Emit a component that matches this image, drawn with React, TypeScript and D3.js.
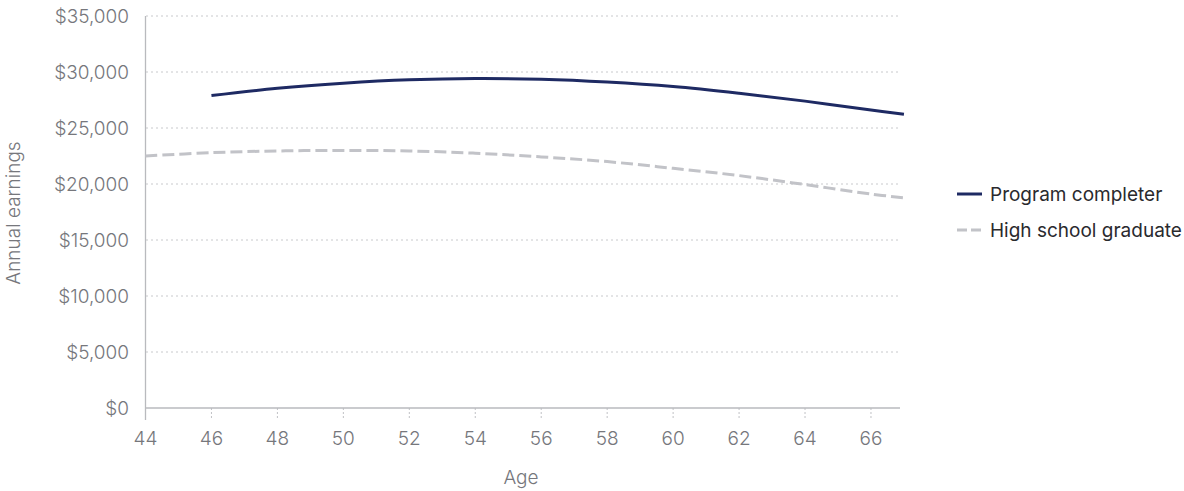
import React from "react";
import * as d3 from "d3";

const ages = [44, 46, 48, 50, 52, 54, 56, 58, 60, 62, 64, 66, 67];
const programCompleter: (number | null)[] = [null, 27900, 28550, 29000, 29300, 29420, 29350, 29100, 28700, 28100, 27400, 26600, 26220];
const highSchoolGraduate: (number | null)[] = [22500, 22800, 22950, 23000, 22950, 22750, 22420, 22000, 21400, 20750, 19950, 19100, 18770];
const yTicks = [0, 5000, 10000, 15000, 20000, 25000, 30000, 35000];
const xTicks = [44, 46, 48, 50, 52, 54, 56, 58, 60, 62, 64, 66];
const seriesNames = ["Program completer", "High school graduate"];

const W = 1184, H = 491;
const FONT = "Inter, 'Open Sans', sans-serif";
const TICK_COLOR = "#76777c";
const FS = 19;

export default function App() {
  const x = d3.scaleLinear().domain([44, 66.88]).range([145.5, 900]);
  const y = d3.scaleLinear().domain([0, 35000]).range([408, 16]);
  const fmt = (v: number) => "$" + d3.format(",")(v);

  const mk = (vals: (number | null)[]) =>
    d3
      .line<number>()
      .defined((_, i) => vals[i] != null)
      .x((_, i) => x(ages[i]))
      .y((_, i) => y(vals[i] as number))
      .curve(d3.curveCatmullRom.alpha(0.5))(ages.map((a) => a)) || "";

  return (
    <svg width={W} height={H} style={{ position: "absolute", left: 0, top: 0, display: "block" }}>
      <rect width={W} height={H} fill="#fff" />
      {yTicks.map((t) => (
        <g key={t}>
          {t > 0 && (
            <line x1={146} x2={900} y1={y(t)} y2={y(t)} stroke="#c8c9cc" strokeWidth={1} strokeDasharray="2,3" />
          )}
          <text x={129} y={y(t)} dy="0.35em" textAnchor="end" fontFamily={FONT} fontSize={FS} fontWeight={300} fill={TICK_COLOR}>
            {fmt(t)}
          </text>
        </g>
      ))}
      {xTicks.map((t) => (
        <g key={t}>
          <line x1={x(t)} x2={x(t)} y1={408} y2={420} stroke="#c0c1c5" strokeWidth={1} strokeDasharray="2,2" />
          <text x={x(t)} y={438} dy="0.35em" textAnchor="middle" fontFamily={FONT} fontSize={FS} fontWeight={300} fill={TICK_COLOR}>
            {t}
          </text>
        </g>
      ))}
      <line x1={145.5} x2={145.5} y1={16} y2={420} stroke="#b9babe" strokeWidth={1.3} />
      <line x1={145.5} x2={900} y1={408} y2={408} stroke="#b9babe" strokeWidth={1.3} />
      <path d={mk(highSchoolGraduate)} fill="none" stroke="#c2c3c8" strokeWidth={3} strokeDasharray="12,5" />
      <path d={mk(programCompleter)} fill="none" stroke="#1e2a63" strokeWidth={3} />
      <text x={521} y={477} dy="0.35em" textAnchor="middle" fontFamily={FONT} fontSize={FS} fontWeight={300} fill={TICK_COLOR}>
        Age
      </text>
      <text
        transform={`translate(13,213) rotate(-90)`}
        dy="0.35em"
        textAnchor="middle"
        fontFamily={FONT}
        fontSize={FS}
        fontWeight={300}
        fill={TICK_COLOR}
      >
        Annual earnings
      </text>
      {seriesNames.map((n, i) => (
        <g key={n} transform={`translate(957, ${194 + i * 36})`}>
          <line
            x1={0}
            x2={25}
            y1={0}
            y2={0}
            stroke={i === 0 ? "#1e2a63" : "#c2c3c8"}
            strokeWidth={3}
            strokeDasharray={i === 0 ? undefined : "10,4"}
          />
          <text x={33} y={0} dy="0.35em" fontFamily={FONT} fontSize={FS} fill="#2a2a2e">
            {n}
          </text>
        </g>
      ))}
    </svg>
  );
}
